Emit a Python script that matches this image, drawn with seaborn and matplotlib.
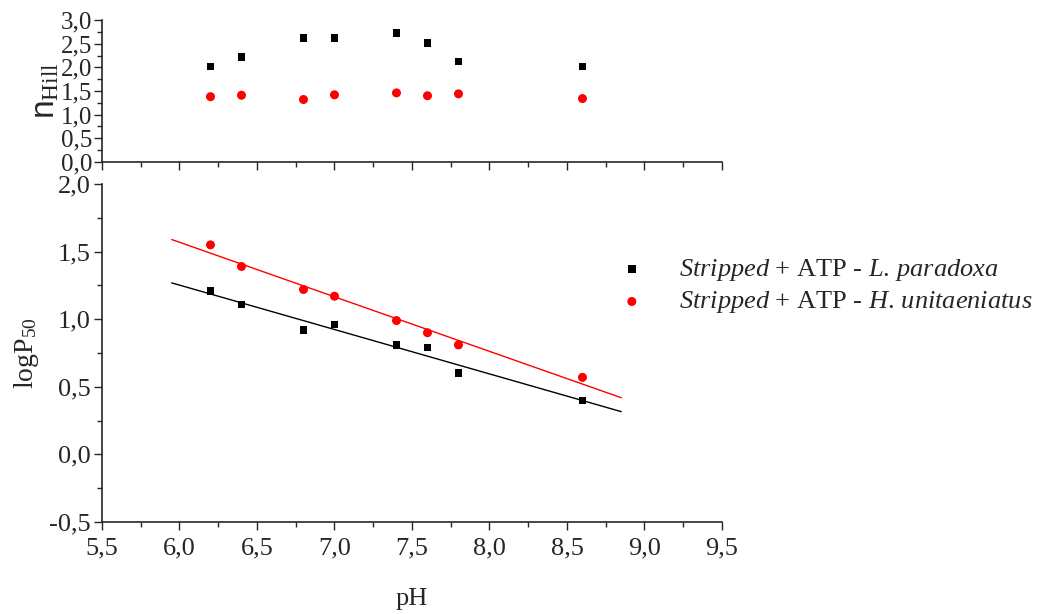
import numpy as np
import pandas as pd
import matplotlib
matplotlib.use('Agg')
import matplotlib.pyplot as plt
from matplotlib.ticker import FuncFormatter, MultipleLocator
import seaborn as sns

# data
ph = [6.2, 6.4, 6.8, 7.0, 7.4, 7.6, 7.8, 8.6]
nhill_lp = [2.02, 2.22, 2.62, 2.62, 2.72, 2.52, 2.12, 2.02]
nhill_hu = [1.38, 1.41, 1.32, 1.42, 1.46, 1.40, 1.44, 1.34]
logp_lp = [1.21, 1.11, 0.92, 0.96, 0.81, 0.79, 0.60, 0.40]
logp_hu = [1.55, 1.39, 1.22, 1.17, 0.99, 0.90, 0.81, 0.57]
fit_range = [5.95, 8.85]

label_lp = r'$\mathit{Stripped}$ + ATP - $\mathit{L.\,paradoxa}$'
label_hu = r'$\mathit{Stripped}$ + ATP - $\mathit{H.\,unitaeniatus}$'

sns.set_style('ticks')
plt.rcParams['font.family'] = ['Liberation Serif', 'DejaVu Serif']
plt.rcParams['mathtext.fontset'] = 'custom'
plt.rcParams['mathtext.rm'] = 'Liberation Serif'
plt.rcParams['mathtext.it'] = 'Liberation Serif:italic'
plt.rcParams['mathtext.sf'] = 'Liberation Sans'
plt.rcParams['font.size'] = 19

df = pd.DataFrame({'pH': ph, 'n_lp': nhill_lp, 'n_hu': nhill_hu,
                   'p_lp': logp_lp, 'p_hu': logp_hu})

fig = plt.figure(figsize=(10.58, 6.14), dpi=100)
ax_top = fig.add_axes([0.0964, 0.7362, 0.586, 0.2312])
ax = fig.add_axes([0.0964, 0.1498, 0.586, 0.5505])

comma = FuncFormatter(lambda v, p: f'{v:.1f}'.replace('.', ','))

# top panel: Hill coefficient
sns.scatterplot(data=df, x='pH', y='n_lp', ax=ax_top, color='black', marker='s',
                s=30, edgecolor='none', legend=False)
sns.scatterplot(data=df, x='pH', y='n_hu', ax=ax_top, color='red', marker='o',
                s=42, edgecolor='none', legend=False)
ax_top.set_xlim(5.5, 9.5)
ax_top.set_ylim(0, 3.0)
ax_top.yaxis.set_major_locator(MultipleLocator(0.5))
ax_top.yaxis.set_minor_locator(MultipleLocator(0.25))
ax_top.yaxis.set_major_formatter(comma)
ax_top.xaxis.set_major_locator(MultipleLocator(0.5))
ax_top.xaxis.set_minor_locator(MultipleLocator(0.25))
ax_top.tick_params(axis='x', labelbottom=False)
ax_top.set_xlabel('')
ax_top.set_ylabel(r'$\mathsf{n}_{\mathregular{Hill}}$', fontsize=24, labelpad=0)

# bottom panel: logP50 with linear fits
sns.scatterplot(data=df, x='pH', y='p_lp', ax=ax, color='black', marker='s',
                s=30, edgecolor='none', label=label_lp)
sns.scatterplot(data=df, x='pH', y='p_hu', ax=ax, color='red', marker='o',
                s=42, edgecolor='none', label=label_hu)
xf = np.array(fit_range)
for yvals, col in [(logp_lp, 'black'), (logp_hu, 'red')]:
    k, b = np.polyfit(ph, yvals, 1)
    sns.lineplot(x=xf, y=k * xf + b, ax=ax, color=col, lw=1, legend=False)

ax.set_xlim(5.5, 9.5)
ax.set_ylim(-0.5, 2.0)
ax.xaxis.set_major_locator(MultipleLocator(0.5))
ax.xaxis.set_minor_locator(MultipleLocator(0.25))
ax.yaxis.set_major_locator(MultipleLocator(0.5))
ax.yaxis.set_minor_locator(MultipleLocator(0.25))
ax.xaxis.set_major_formatter(comma)
ax.yaxis.set_major_formatter(comma)
ax.set_xlabel('pH', fontsize=19, labelpad=21)
ax.set_ylabel(r'logP$_{\mathregular{50}}$', fontsize=20, labelpad=6)

for a in (ax, ax_top):
    sns.despine(ax=a)
    a.tick_params(which='major', direction='out', length=6, width=1, labelsize=19, pad=2)
    a.tick_params(which='minor', direction='out', length=3.5, width=1)
    for sp in a.spines.values():
        sp.set_linewidth(1.2)
ax.tick_params(axis='x', pad=5)
ax_top.tick_params(axis='y', labelsize=18, pad=1)

handles, labels = ax.get_legend_handles_labels()
ax.legend(handles, labels, loc='center left', bbox_to_anchor=(0.566, 0.534),
          bbox_transform=fig.transFigure, frameon=False, fontsize=19,
          handletextpad=1.05, labelspacing=0.25, markerscale=1.0,
          borderpad=0, handlelength=1.5)

fig.savefig('out.png', dpi=100)
